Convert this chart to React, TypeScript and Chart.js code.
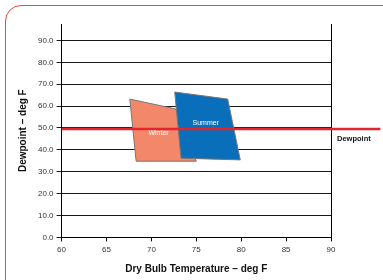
import React, { useEffect, useRef } from "react";
import { Chart, registerables } from "chart.js";

Chart.register(...registerables);

const winterX = [67.6, 72.7, 75.0, 68.3, 67.6];
const winterY = [63.2, 58.7, 34.8, 34.8, 63.2];
const summerX = [72.6, 78.5, 79.9, 73.3, 72.6];
const summerY = [66.4, 63.2, 35.4, 36.2, 66.4];
const dewpointX = [60, 95.5];
const dewpointY = [49.5, 49.5];
const seriesNames = ["Winter", "Summer", "Dewpoint"];
const labelX = [70.8, 76.05];
const labelY = [47.7, 52.3];
const xTicks = [60, 65, 70, 75, 80, 85, 90];
const yTicks = [0, 10, 20, 30, 40, 50, 60, 70, 80, 90];

const FONT = "'Liberation Sans', Arial, sans-serif";

const pts = (xs: number[], ys: number[]) => xs.map((x, i) => ({ x, y: ys[i] }));

const shapeLabels = {
  id: "shapeLabels",
  afterDatasetsDraw(chart: any) {
    const { ctx, scales, chartArea } = chart;
    ctx.save();
    ctx.fillStyle = "#ffffff";
    ctx.font = `7px ${FONT}`;
    ctx.textAlign = "center";
    ctx.textBaseline = "middle";
    for (let i = 0; i < labelX.length; i++) {
      ctx.fillText(seriesNames[i], scales.x.getPixelForValue(labelX[i]), scales.y.getPixelForValue(labelY[i]));
    }
    // series name for the dewpoint line, at its right end
    ctx.fillStyle = "#111";
    ctx.font = `bold 7.5px ${FONT}`;
    ctx.textAlign = "left";
    ctx.fillText(seriesNames[2], chartArea.right + 6, scales.y.getPixelForValue(dewpointY[1]) + 9.5);
    ctx.restore();
  },
};

export default function App() {
  const ref = useRef<HTMLCanvasElement>(null);
  useEffect(() => {
    const chart = new Chart(ref.current!, {
      type: "line",
      data: {
        datasets: [
          {
            label: seriesNames[0],
            data: pts(winterX, winterY),
            fill: "shape",
            backgroundColor: "#f3876a",
            borderColor: "#777777",
            borderWidth: 1,
            pointRadius: 0,
            tension: 0,
            order: 3,
          } as any,
          {
            label: seriesNames[1],
            data: pts(summerX, summerY),
            fill: "shape",
            backgroundColor: "#0a6fba",
            borderColor: "#777777",
            borderWidth: 1,
            pointRadius: 0,
            tension: 0,
            order: 2,
          },
          {
            label: seriesNames[2],
            data: pts(dewpointX, dewpointY),
            fill: false,
            borderColor: "#e3262e",
            borderWidth: 2.5,
            pointRadius: 0,
            clip: false,
            order: 1,
          },
        ],
      },
      options: {
        animation: false,
        responsive: false,
        maintainAspectRatio: false,
        layout: { padding: { left: 17, top: 24, right: 52, bottom: 5 } },
        plugins: {
          tooltip: { enabled: false },
          legend: { display: false },
        },
        scales: {
          x: {
            type: "linear",
            min: 60,
            max: 90,
            afterBuildTicks: (s: any) => {
              s.ticks = xTicks.map((v) => ({ value: v }));
            },
            ticks: { color: "#333", font: { family: FONT, size: 8 }, padding: 4 },
            grid: {
              color: (c: any) => (c.tick && c.tick.value === 90 ? "#000" : "rgba(0,0,0,0)"),
              tickColor: "#000",
              tickLength: 4,
              lineWidth: 1,
            },
            border: { color: "#000", width: 1 },
            title: {
              display: true,
              text: "Dry Bulb Temperature – deg F",
              color: "#111",
              font: { family: FONT, size: 10, weight: "bold" },
              padding: { top: 4, bottom: 0 },
            },
          },
          y: {
            min: 0,
            max: 97.5,
            afterBuildTicks: (s: any) => {
              s.ticks = yTicks.map((v) => ({ value: v }));
            },
            ticks: {
              color: "#333",
              font: { family: FONT, size: 8 },
              padding: 3,
              callback: (v: any) => Number(v).toFixed(1),
            },
            grid: { color: "#1a1a1a", tickLength: 5, lineWidth: 1 },
            border: { color: "#000", width: 1 },
            title: {
              display: true,
              text: "Dewpoint – deg F",
              color: "#111",
              font: { family: FONT, size: 10, weight: "bold" },
              padding: { top: 0, bottom: 6 },
            },
          },
        },
      },
      plugins: [shapeLabels],
    });
    return () => chart.destroy();
  }, []);
  return (
    <div style={{ position: "fixed", left: 0, top: 0, width: 383, height: 280, overflow: "hidden", background: "#fff" }}>
      <div
        style={{
          position: "absolute",
          left: 5,
          top: 5,
          width: 420,
          height: 320,
          border: "1.5px solid #e8483f",
          borderRadius: 16,
          boxSizing: "border-box",
        }}
      />
      <canvas ref={ref} width={383} height={280} style={{ position: "absolute", left: 0, top: 0, width: 383, height: 280 }} />
    </div>
  );
}
